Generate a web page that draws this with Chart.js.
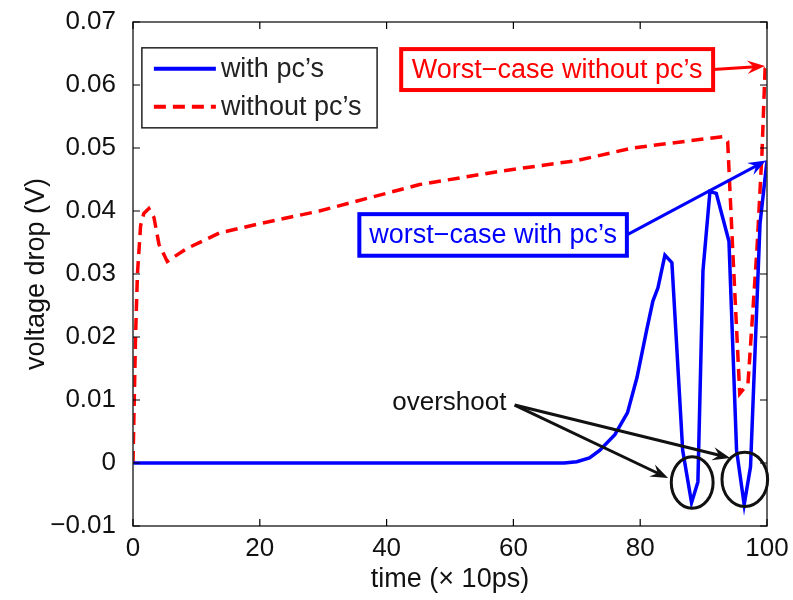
<!DOCTYPE html>
<html>
<head>
<meta charset="utf-8">
<script src="https://cdn.jsdelivr.net/npm/chart.js@4.4.1/dist/chart.umd.min.js"></script>
<style>
  html, body { margin: 0; padding: 0; background: #fff; }
  #wrap { width: 793px; height: 600px; }
</style>
</head>
<body>
<div id="wrap"><canvas id="myChart"></canvas></div>
<script>
// data
const timeWith = [0, 68, 70, 72, 73.6, 76, 78, 79.5, 81, 82, 82.8, 83.9, 85, 86.7, 88.1, 89.1, 89.9, 91, 92, 94, 95.2, 96.4, 97.4, 98.9, 100];
const voltWith = [0, 0, 0.0002, 0.0008, 0.002, 0.0045, 0.008, 0.0136, 0.021, 0.0257, 0.0278, 0.033, 0.0318, 0.002, -0.0063, -0.003, 0.0305, 0.0431, 0.0428, 0.0352, 0.002, -0.0066, -0.0006, 0.038, 0.048];

const timeWithout = [0, 0.2, 0.4, 0.7, 1.2, 1.7, 2.5, 3.3, 4.1, 5.4, 8.4, 13.6, 20, 29.4, 45.2, 57.8, 70, 78.8, 93, 93.8, 94.6, 95.7, 97, 98.4, 99.2, 99.7, 100];
const voltWithout = [0, 0.01, 0.02, 0.03, 0.0377, 0.0396, 0.0404, 0.039, 0.0347, 0.032, 0.034, 0.0365, 0.038, 0.04, 0.0442, 0.0463, 0.048, 0.05, 0.0518, 0.051, 0.0337, 0.011, 0.0126, 0.0337, 0.049, 0.0626, 0.063];

const xTicks = [0, 20, 40, 60, 80, 100];
const yTicks = [-0.01, 0, 0.01, 0.02, 0.03, 0.04, 0.05, 0.06, 0.07];
const seriesNames = ["with pc\u2019s", "without pc\u2019s"];

const FONT = "'Liberation Sans', Arial, sans-serif";

function toPoints(xs, ys) {
  return xs.map((x, i) => ({ x: x, y: ys[i] }));
}

function arrow(ctx, x1, y1, x2, y2, color) {
  const a = Math.atan2(y2 - y1, x2 - x1);
  const len = 19, half = 0.36;
  ctx.save();
  ctx.strokeStyle = color;
  ctx.fillStyle = color;
  ctx.lineWidth = 3;
  ctx.beginPath();
  ctx.moveTo(x1, y1);
  ctx.lineTo(x2 - Math.cos(a) * 9, y2 - Math.sin(a) * 9);
  ctx.stroke();
  ctx.beginPath();
  ctx.moveTo(x2, y2);
  ctx.lineTo(x2 - len * Math.cos(a - half), y2 - len * Math.sin(a - half));
  ctx.lineTo(x2 - 0.6 * len * Math.cos(a), y2 - 0.6 * len * Math.sin(a));
  ctx.lineTo(x2 - len * Math.cos(a + half), y2 - len * Math.sin(a + half));
  ctx.closePath();
  ctx.fill();
  ctx.restore();
}

// frame, inward ticks, legend and annotations (matlab look)
const decorations = {
  id: 'decorations',
  afterDatasetsDraw(chart) {
    const ctx = chart.ctx;
    const xs = chart.scales.x, ys = chart.scales.y;
    const a = chart.chartArea;
    const px = v => xs.getPixelForValue(v);
    const py = v => ys.getPixelForValue(v);

    ctx.save();
    // frame
    ctx.strokeStyle = '#333';
    ctx.lineWidth = 1.5;
    ctx.strokeRect(a.left, a.top, a.right - a.left, a.bottom - a.top);
    ctx.lineWidth = 1.2;
    ctx.strokeStyle = '#000';
    ctx.beginPath();
    xTicks.forEach(t => {
      const x = px(t);
      ctx.moveTo(x, a.bottom); ctx.lineTo(x, a.bottom - 7);
      ctx.moveTo(x, a.top); ctx.lineTo(x, a.top + 7);
    });
    yTicks.forEach(t => {
      const y = py(t);
      ctx.moveTo(a.left, y); ctx.lineTo(a.left + 7, y);
      ctx.moveTo(a.right, y); ctx.lineTo(a.right - 7, y);
    });
    ctx.stroke();

    // legend
    const lx1 = px(1.4), lx2 = px(38.5), ly1 = py(0.0659), ly2 = py(0.0532);
    ctx.fillStyle = '#fff';
    ctx.fillRect(lx1, ly1, lx2 - lx1, ly2 - ly1);
    ctx.strokeStyle = '#222';
    ctx.lineWidth = 1.5;
    ctx.strokeRect(lx1, ly1, lx2 - lx1, ly2 - ly1);
    const sets = chart.data.datasets;
    const rows = [ly1 + 21, ly1 + 59];
    sets.forEach((ds, i) => {
      ctx.strokeStyle = ds.borderColor;
      ctx.lineWidth = 4;
      ctx.setLineDash(ds.borderDash || []);
      ctx.beginPath();
      ctx.moveTo(lx1 + 12, rows[i]);
      ctx.lineTo(lx1 + 74, rows[i]);
      ctx.stroke();
      ctx.setLineDash([]);
      ctx.fillStyle = '#222';
      ctx.font = '27px ' + FONT;
      ctx.textAlign = 'left';
      ctx.textBaseline = 'middle';
      ctx.fillText(ds.label, lx1 + 79, rows[i] + 1);
    });

    // boxed labels
    function boxLabel(text, x1, y1, x2, y2, color) {
      const bx1 = px(x1), bx2 = px(x2), by1 = py(y1), by2 = py(y2);
      ctx.fillStyle = '#fff';
      ctx.fillRect(bx1, by1, bx2 - bx1, by2 - by1);
      ctx.strokeStyle = color;
      ctx.lineWidth = 4;
      ctx.strokeRect(bx1, by1, bx2 - bx1, by2 - by1);
      ctx.fillStyle = color;
      ctx.font = '27px ' + FONT;
      ctx.textAlign = 'center';
      ctx.textBaseline = 'middle';
      ctx.fillText(text, (bx1 + bx2) / 2, (by1 + by2) / 2 + 1);
      return { right: bx2, mid: (by1 + by2) / 2 };
    }
    const last = timeWithout.length - 1;
    const rb = boxLabel('Worst\u2212case without pc\u2019s', 42.3, 0.0657, 91.5, 0.0592, '#ff0000');
    arrow(ctx, rb.right, rb.mid, px(timeWithout[last]) - 2, py(voltWithout[last]), '#ff0000');
    const lastB = timeWith.length - 1;
    const bb = boxLabel('worst\u2212case with pc\u2019s', 35.7, 0.0395, 77.9, 0.0329, '#0000ff');
    arrow(ctx, bb.right, bb.mid, px(timeWith[lastB]) - 1, py(voltWith[lastB]), '#0000ff');

    // overshoot
    ctx.fillStyle = '#111';
    ctx.font = '26px ' + FONT;
    ctx.textAlign = 'right';
    ctx.textBaseline = 'middle';
    ctx.fillText('overshoot', px(58.9), py(0.0095));
    arrow(ctx, px(60.2), py(0.0092), px(84.4), py(-0.0024), '#111');
    arrow(ctx, px(60.2), py(0.0092), px(94.2), py(0.0008), '#111');
    ctx.strokeStyle = '#111';
    ctx.lineWidth = 3;
    ctx.beginPath();
    ctx.ellipse(px(88.2), py(-0.0031), px(3.3) - px(0), py(0) - py(0.0041), 0, 0, Math.PI * 2);
    ctx.stroke();
    ctx.beginPath();
    ctx.ellipse(px(96.5), py(-0.0026), px(3.6) - px(0), py(0) - py(0.0043), 0, 0, Math.PI * 2);
    ctx.stroke();
    ctx.restore();
  }
};

const ctx = document.getElementById('myChart');
new Chart(ctx, {
  type: 'line',
  data: {
    datasets: [{
      label: seriesNames[0],
      data: toPoints(timeWith, voltWith),
      borderColor: '#0000ff',
      borderWidth: 3.5,
      pointRadius: 0,
      tension: 0
    }, {
      label: seriesNames[1],
      data: toPoints(timeWithout, voltWithout),
      borderColor: '#ff0000',
      borderWidth: 3.5,
      borderDash: [12, 7],
      pointRadius: 0,
      tension: 0
    }]
  },
  options: {
    responsive: true,
    maintainAspectRatio: false,
    animation: false,
    events: [],
    layout: { padding: { top: 20, right: 26, left: 20, bottom: 0 } },
    plugins: {
      legend: { display: false },
      tooltip: { enabled: false }
    },
    scales: {
      x: {
        type: 'linear',
        min: 0,
        max: 100,
        afterFit: s => { s.height = 74; },
        afterBuildTicks: s => { s.ticks = xTicks.map(v => ({ value: v })); },
        grid: { display: false },
        border: { display: false },
        ticks: {
          color: '#111',
          padding: 2,
          maxRotation: 0,
          font: { family: FONT, size: 26, lineHeight: 1 },
          callback: v => String(v)
        },
        title: {
          display: true,
          text: 'time (\u00d7 10ps)',
          color: '#111',
          padding: { top: 0, bottom: 4 },
          font: { family: FONT, size: 27 }
        }
      },
      y: {
        type: 'linear',
        min: -0.01,
        max: 0.07,
        afterFit: s => { s.width = 113; },
        afterBuildTicks: s => { s.ticks = yTicks.map(v => ({ value: v })); },
        grid: { display: false },
        border: { display: false },
        ticks: {
          color: '#111',
          padding: 9,
          font: { family: FONT, size: 26, lineHeight: 1 },
          callback: v => v === 0 ? '0' : (v < 0 ? '\u2212' + Math.abs(v).toFixed(2) : v.toFixed(2))
        },
        title: {
          display: true,
          text: 'voltage drop (V)',
          color: '#111',
          padding: { top: 0, bottom: 4 },
          font: { family: FONT, size: 27 }
        }
      }
    }
  },
  plugins: [decorations]
});
</script>
</body>
</html>
